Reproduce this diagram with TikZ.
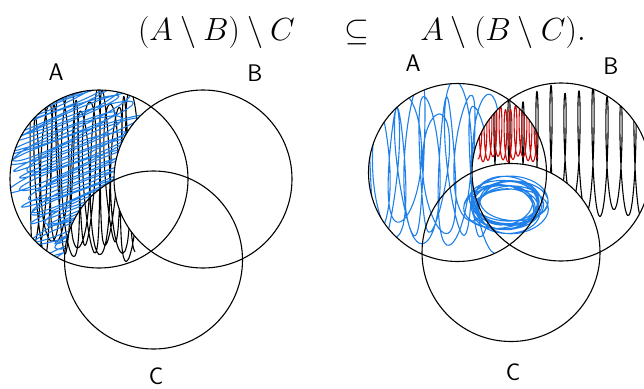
\RequirePackage{fix-cm}
\documentclass[tikz,border=0pt]{standalone}
\usepackage{amsmath,amssymb}

\definecolor{penblue}{RGB}{30,128,232}
\definecolor{penred}{RGB}{205,12,12}

\begin{document}
\begin{tikzpicture}[
  x=1pt, y=-1pt,
  setline/.style={draw=black, line width=1.1pt},
  scribble/.style={line width=1.1pt, smooth, line join=round, line cap=round},
  hand/.style={font=\sffamily\fontsize{24}{24}\selectfont, inner sep=0pt},
  formula/.style={font=\fontsize{32}{38}\selectfont, inner sep=0pt, anchor=base},
  outside/.style 2 args={insert path={(-50,-50) -- (700,-50) -- (700,450) -- (-50,450) -- cycle
                         (#1) ++(#2,0) arc[start angle=360, end angle=0, radius=#2]}},
]
\useasboundingbox (0,0) rectangle (644,388);

% set centres
\coordinate (lA) at (99,179);
\coordinate (lB) at (203,179);
\coordinate (lC) at (153.5,260);
\coordinate (rA) at (457.5,172.5);
\coordinate (rB) at (561,172);
\coordinate (rC) at (511,252.5);

% formula
\node[formula] (lhs) at (216.5,40) {$(A\setminus B)\setminus C$};
\node[formula] (sub) at (357,40) {$\subseteq$};
\node[formula] (rhs) at (503,40) {$A\setminus(B\setminus C).$};

% left: A minus B, black
\begin{scope}
  \clip (lA) circle[radius=89];
  \clip[outside={lB}{89}];
  \draw[scribble, black] plot[domain=0:5400, samples=300, variable=\t]
    ({30 + \t/360*7 + 7*sin(\t) + 2*sin(1.7*\t)}, {174 + 4*sin(0.17*\t) + (76 + 9*sin(0.23*\t))*cos(\t)});
\end{scope}

% left: (A minus B) minus C, blue
\begin{scope}
  \clip (lA) circle[radius=89];
  \clip[outside={lB}{89}];
  \clip[outside={lC}{89}];
  \begin{scope}[rotate around={22:(90,170)}]
    \draw[scribble, penblue] plot[domain=0:10800, samples=580, variable=\t]
      ({84 + 7*sin(0.19*\t) + (64 + 9*sin(0.29*\t))*cos(\t)}, {78 + \t/360*5.5 + 7*sin(\t) + 2*sin(1.4*\t)});
  \end{scope}
\end{scope}

% right: B minus C, black
\begin{scope}
  \clip (rB) circle[radius=89];
  \clip[outside={rC}{89}];
  \draw[scribble, black] plot[domain=0:3960, samples=240, variable=\t]
    ({488 + \t/360*14 + 4*sin(\t)}, {152 + 4*sin(0.13*\t) + (60 + 6*sin(0.3*\t))*cos(\t)});
\end{scope}

% right: A and B minus C, red
\begin{scope}
  \clip (rA) circle[radius=89];
  \clip (rB) circle[radius=89];
  \clip[outside={rC}{89}];
  \draw[scribble, penred] plot[domain=0:4320, samples=260, variable=\t]
    ({478 + \t/360*5 + 2.5*sin(\t)}, {133 + 3*sin(0.21*\t) + 26*cos(\t)});
\end{scope}

% right: A minus B, blue
\begin{scope}
  \clip (rA) circle[radius=89];
  \clip[outside={rB}{89}];
  \draw[scribble, penblue] plot[domain=0:4320, samples=300, variable=\t]
    ({372 + \t/360*10 + 13*sin(\t) + 4*sin(1.6*\t)}, {166 + 6*sin(0.19*\t) + (70 + 12*sin(0.27*\t))*cos(\t)});
\end{scope}

% right: A and B and C, blue
\draw[scribble, penblue] plot[domain=0:4320, samples=260, variable=\t]
  ({506 + 6*sin(0.21*\t) + (34 + 4*sin(0.4*\t))*cos(\t)}, {205 + 5*cos(0.33*\t) + (22 + 3*sin(0.5*\t))*sin(\t)});

% circles
\draw[setline] (lA) circle[radius=89];
\draw[setline] (lB) circle[radius=89];
\draw[setline] (lC) circle[radius=89];
\draw[setline] (rA) circle[radius=89];
\draw[setline] (rB) circle[radius=89];
\draw[setline] (rC) circle[radius=89];

% set labels
\node[hand] (labA) at (56,72) {A};
\node[hand] (labB) at (255,73) {B};
\node[hand] (labC) at (156,376) {C};
\node[hand] (labrA) at (413,63) {A};
\node[hand] (labrB) at (611,66) {B};
\node[hand] (labrC) at (513,372) {C};

\end{tikzpicture}
\end{document}
